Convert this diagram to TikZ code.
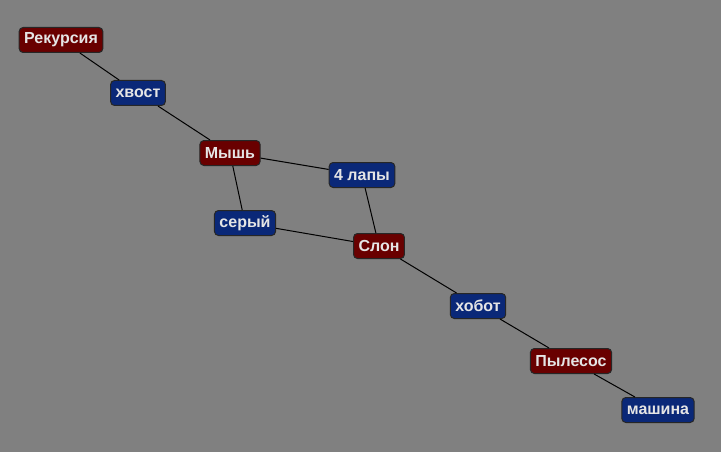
\documentclass[tikz,border=0pt]{standalone}
\usepackage{fontspec}
\setmainfont{Liberation Sans}
\begin{document}
\begin{tikzpicture}[x=1pt,y=-1pt,
  box/.style={draw=black!85, line width=1pt, rounded corners=4pt, text=black!10,
    font=\fontsize{16}{18}\selectfont\bfseries, minimum height=25pt, inner xsep=5pt, inner ysep=2pt},
  redbox/.style={box, fill={rgb,255:red,105;green,0;blue,0}},
  bluebox/.style={box, fill={rgb,255:red,10;green,40;blue,120}},
  link/.style={draw=black, line width=1pt}]
\fill[black!50] (0,0) rectangle (721,452);
\useasboundingbox (0,0) rectangle (721,452);
\node[redbox] (rek) at (61,40) {Рекурсия};
\node[bluebox] (hvost) at (138,93) {хвост};
\node[redbox] (mysh) at (230,153) {Мышь};
\node[bluebox] (lapy) at (362,175) {4 лапы};
\node[bluebox] (sery) at (245,223) {серый};
\node[redbox] (slon) at (379,246) {Слон};
\node[bluebox] (hobot) at (478,306) {хобот};
\node[redbox] (pyl) at (571,361) {Пылесос};
\node[bluebox] (mash) at (658,410) {машина};
\draw[link] (rek) -- (hvost);
\draw[link] (hvost) -- (mysh);
\draw[link] (mysh) -- (lapy);
\draw[link] (mysh) -- (sery);
\draw[link] (lapy) -- (slon);
\draw[link] (sery) -- (slon);
\draw[link] (slon) -- (hobot);
\draw[link] (hobot) -- (pyl);
\draw[link] (pyl) -- (mash);
\end{tikzpicture}
\end{document}
